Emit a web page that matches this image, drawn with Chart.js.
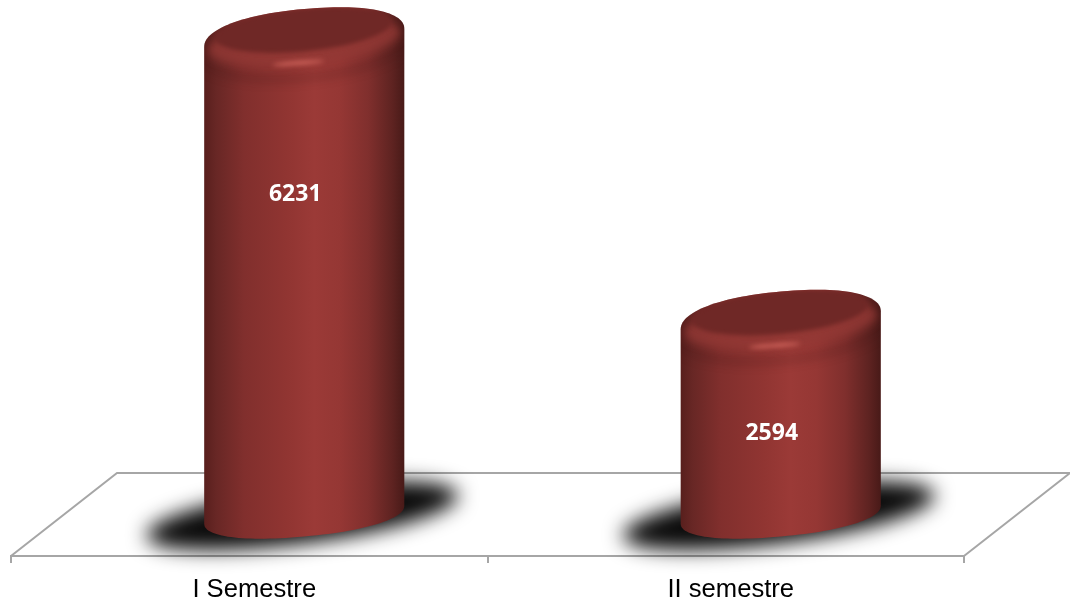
<!DOCTYPE html>
<html>
<head>
<meta charset="utf-8">
<style>
  html, body { margin: 0; padding: 0; background: #fff; overflow: hidden; }
  #myChart { display: block; }
</style>
<script src="https://cdn.jsdelivr.net/npm/chart.js@4/dist/chart.umd.js"></script>
</head>
<body>
<canvas id="myChart" width="1070" height="601"></canvas>
<script>
const categories = ["I Semestre", "II semestre"];
const seriesValues = [6231, 2594];

const FLOOR_DX = 106, FLOOR_DY = 83;   // depth of the 3d floor
const TOP_SHIFT = 34;                  // cap centre sits this far above the bar top
const LINE_COLOR = "#a6a6a6";

// sheared ellipse, right side goes up
function skewEllipse(ctx, cx, cy, a, b, s) {
    ctx.save();
    ctx.transform(1, -s / a, 0, 1, cx, cy);
    ctx.beginPath();
    ctx.ellipse(0, 0, a, b, 0, 0, Math.PI * 2);
    ctx.restore();
}

// outline of the cylinder, slightly squared ends so the shoulders look rounded
function cylinderPath(ctx, cx, yTop, yBase, a, s) {
    var n = 2.2, steps = 60, i, t, c, sn, px, py;
    ctx.beginPath();
    for (i = 0; i <= steps; i++) {
        t = Math.PI + Math.PI * i / steps;
        c = Math.cos(t); sn = Math.sin(t);
        px = a * Math.sign(c) * Math.pow(Math.abs(c), 2 / n);
        py = 29 * Math.sign(sn) * Math.pow(Math.abs(sn), 2 / n);
        ctx[i ? "lineTo" : "moveTo"](cx + px, yTop + py - s * px / a);
    }
    for (i = 0; i <= steps; i++) {
        t = Math.PI * i / steps;
        c = Math.cos(t); sn = Math.sin(t);
        px = a * Math.sign(c) * Math.pow(Math.abs(c), 2 / n);
        py = 22 * Math.sign(sn) * Math.pow(Math.abs(sn), 2 / n);
        ctx.lineTo(cx + px, yBase + py - s * px / a);
    }
    ctx.closePath();
}

function sideGradient(ctx, left, right) {
    var g = ctx.createLinearGradient(left, 0, right, 0);
    g.addColorStop(0, "#581f1d");
    g.addColorStop(0.06, "#682725");
    g.addColorStop(0.2, "#812f2d");
    g.addColorStop(0.42, "#913532");
    g.addColorStop(0.55, "#9b3a37");
    g.addColorStop(0.68, "#953734");
    g.addColorStop(0.82, "#802f2d");
    g.addColorStop(0.94, "#5e2321");
    g.addColorStop(1, "#481a18");
    return g;
}

const cylinderPlugin = {
    id: "cylinders",
    beforeDatasetsDraw: function(chart) {
        var ctx = chart.ctx, area = chart.chartArea;
        var x0 = area.left, x1 = area.right, y0 = area.bottom;

        // floor
        ctx.save();
        ctx.strokeStyle = LINE_COLOR;
        ctx.lineWidth = 2;
        ctx.beginPath();
        ctx.moveTo(x0, y0);
        ctx.lineTo(x0 + FLOOR_DX, y0 - FLOOR_DY);
        ctx.lineTo(x1 + FLOOR_DX, y0 - FLOOR_DY);
        ctx.lineTo(x1, y0);
        ctx.stroke();
        ctx.restore();

        // shadows
        chart.getDatasetMeta(0).data.forEach(function(bar) {
            var cx = bar.x + FLOOR_DX / 2;
            var cy = bar.base - FLOOR_DY / 2 + 1;
            ctx.save();
            ctx.filter = "blur(10px)";
            ctx.fillStyle = "#0a0a0a";
            skewEllipse(ctx, cx, cy, 156, 28, 20);
            ctx.fill();
            ctx.restore();
        });
    },
    afterDatasetsDraw: function(chart) {
        var ctx = chart.ctx;
        var yScale = chart.scales.y;
        chart.getDatasetMeta(0).data.forEach(function(bar, i) {
            var cx = bar.x + FLOOR_DX / 2 + 2;
            var a = bar.width / 2;
            var s = 9;
            var yBase = bar.base - FLOOR_DY / 2;
            var yTop = bar.y - TOP_SHIFT;
            var left = cx - a;

            ctx.save();
            cylinderPath(ctx, cx, yTop, yBase, a, s);
            ctx.fillStyle = sideGradient(ctx, left, cx + a);
            ctx.fill();
            ctx.clip();

            // soft shade under the rim
            ctx.save();
            ctx.filter = "blur(5px)";
            ctx.strokeStyle = "rgba(60,16,14,0.25)";
            ctx.lineWidth = 6;
            skewEllipse(ctx, cx, yTop + 9, a + 4, 31, s);
            ctx.stroke();
            ctx.restore();

            // lighter rim
            ctx.save();
            ctx.filter = "blur(4px)";
            ctx.fillStyle = "rgba(146,56,52,0.8)";
            skewEllipse(ctx, cx, yTop + 3, a - 4, 24, s);
            ctx.fill();
            ctx.filter = "blur(2.5px)";
            ctx.fillStyle = "rgba(226,112,102,0.95)";
            skewEllipse(ctx, cx - 6, yTop + 25, 26, 1.6, 2);
            ctx.fill();
            // flat cap
            ctx.filter = "blur(2px)";
            ctx.fillStyle = "#6f2826";
            skewEllipse(ctx, cx - 1, yTop - 8, a - 12, 21.5, 8);
            ctx.fill();
            ctx.restore();
            ctx.restore();

            // value label
            ctx.save();
            ctx.fillStyle = "#ffffff";
            ctx.font = "bold 23px 'Open Sans'";
            ctx.textAlign = "center";
            ctx.textBaseline = "middle";
            ctx.fillText(String(seriesValues[i]), cx - 9, yScale.getPixelForValue(seriesValues[i] * 0.849) + 49);
            ctx.restore();
        });
    }
};

var canvas = document.getElementById("myChart");
var myChart = new Chart(canvas.getContext("2d"), {
    type: "bar",
    data: {
        labels: categories,
        datasets: [{
            data: seriesValues,
            backgroundColor: "rgba(0,0,0,0)",
            borderWidth: 0,
            barPercentage: 0.42,
            categoryPercentage: 1
        }]
    },
    options: {
        responsive: false,
        animation: false,
        layout: { padding: { left: 11, right: 106, top: 20, bottom: 0 } },
        plugins: {
            legend: { display: false },
            title: { display: false },
            tooltip: { enabled: false }
        },
        scales: {
            y: { display: false, min: 0, max: 6900 },
            x: {
                afterFit: function(scale) { scale.height = 45; },
                border: { color: LINE_COLOR, width: 2 },
                grid: {
                    offset: true,
                    drawOnChartArea: false,
                    color: LINE_COLOR,
                    lineWidth: 2,
                    tickLength: 7
                },
                ticks: {
                    color: "#000000",
                    padding: 12,
                    labelOffset: 5,
                    maxRotation: 0,
                    autoSkip: false,
                    font: { family: "'Liberation Sans'", size: 25.6 }
                }
            }
        }
    },
    plugins: [cylinderPlugin]
});
</script>
</body>
</html>
